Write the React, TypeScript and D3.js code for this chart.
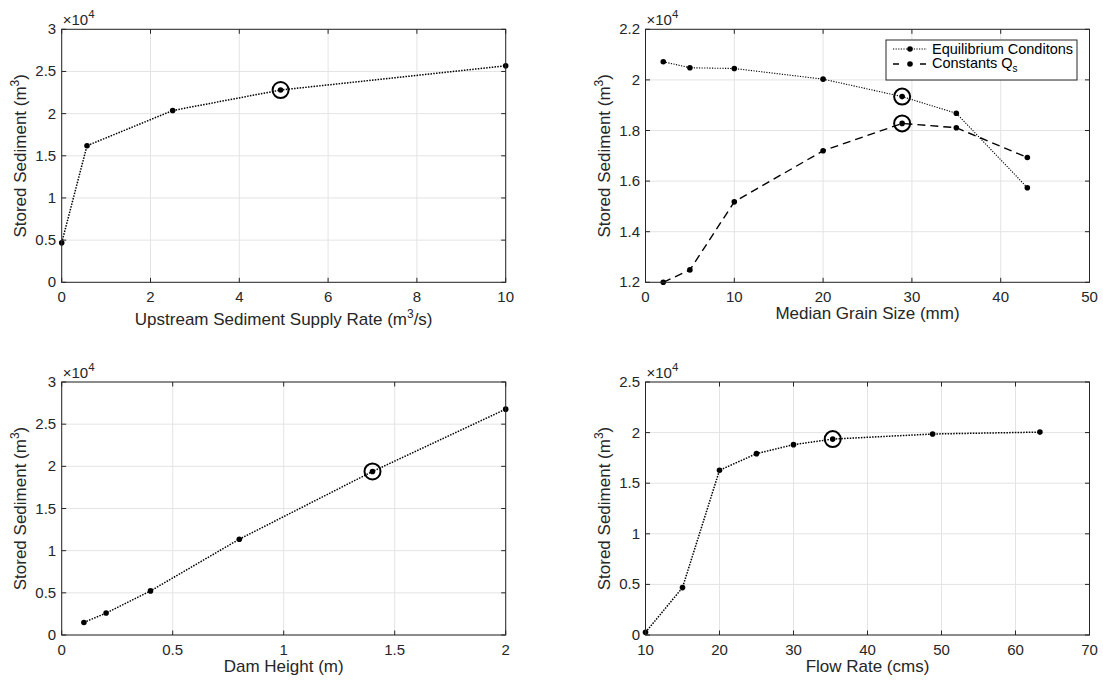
import React from "react";
import * as d3 from "d3";

// ---- Data ----
const supplyX = [0, 0.57, 2.5, 4.93, 10];
const supplyY = [4680, 16200, 20370, 22800, 25670];
const supplyHi = 3;

const grainX = [2, 5, 10, 20, 28.9, 35, 43];
const grainEqY = [20720, 20480, 20450, 20030, 19340, 18680, 15740];
const grainQsY = [12000, 12490, 15180, 17200, 18280, 18110, 16930];
const grainHi = 4;

const damX = [0.1, 0.2, 0.4, 0.8, 1.4, 2];
const damY = [1490, 2600, 5230, 11360, 19390, 26780];
const damHi = 4;

const flowX = [10, 15, 20, 25, 30, 35.3, 48.8, 63.3];
const flowY = [260, 4685, 16280, 17920, 18810, 19360, 19860, 20050];
const flowHi = 5;

const ticksSupplyX = [0, 2, 4, 6, 8, 10];
const ticksGrainX = [0, 10, 20, 30, 40, 50];
const ticksDamX = [0, 0.5, 1, 1.5, 2];
const ticksFlowX = [10, 20, 30, 40, 50, 60, 70];
const ticksY3 = [0, 0.5, 1, 1.5, 2, 2.5, 3];
const ticksY22 = [1.2, 1.4, 1.6, 1.8, 2, 2.2];
const ticksY25 = [0, 0.5, 1, 1.5, 2, 2.5];

const legendLabels = ["Equilibrium Conditons", "Constants Q"];

// ---- Style ----
const FONT = "'Liberation Sans', Arial, Helvetica, sans-serif";
const AX = "#262626";
const GRID = "#e4e4e4";
const TICK_FS = 15;
const LABEL_FS = 17;
const PW = 444;
const PH = 253;

type Series = { x: number[]; y: number[]; dash: string; width: number; hi: number };

function Panel(props: {
  left: number;
  top: number;
  xDomain: [number, number];
  yDomain: [number, number]; // in units of 1e4
  xTicks: number[];
  yTicks: number[];
  series: Series[];
  xLabel: React.ReactNode;
  xLabelDy: number;
}) {
  const { left, top, xDomain, yDomain, xTicks, yTicks, series, xLabel, xLabelDy } = props;
  const x = d3.scaleLinear().domain(xDomain).range([left, left + PW]);
  const y = d3.scaleLinear().domain(yDomain.map((v) => v * 1e4)).range([top + PH, top]);
  const bottom = top + PH;
  const right = left + PW;
  const tl = 4.5;
  return (
    <g>
      {xTicks.map((t, i) => (
        <line key={"gx" + i} x1={x(t)} x2={x(t)} y1={top} y2={bottom} stroke={GRID} strokeWidth={1} />
      ))}
      {yTicks.map((t, i) => (
        <line key={"gy" + i} x1={left} x2={right} y1={y(t * 1e4)} y2={y(t * 1e4)} stroke={GRID} strokeWidth={1} />
      ))}
      {series.map((s, si) => {
        const pts: [number, number][] = s.x.map((v, i) => [x(v), y(s.y[i])]);
        const line = d3.line()(pts) || "";
        return (
          <g key={"s" + si}>
            <path d={line} fill="none" stroke="#000" strokeWidth={s.width} strokeDasharray={s.dash} />
            {pts.map((p, i) => (
              <circle key={i} cx={p[0]} cy={p[1]} r={2.8} fill="#000" />
            ))}
            <circle cx={pts[s.hi][0]} cy={pts[s.hi][1]} r={8} fill="none" stroke="#000" strokeWidth={2} />
          </g>
        );
      })}
      <rect x={left} y={top} width={PW} height={PH} fill="none" stroke={AX} strokeWidth={1} />
      {xTicks.map((t, i) => (
        <g key={"tx" + i}>
          <line x1={x(t)} x2={x(t)} y1={bottom} y2={bottom - tl} stroke={AX} />
          <line x1={x(t)} x2={x(t)} y1={top} y2={top + tl} stroke={AX} />
          <text x={x(t)} y={bottom + 20} textAnchor="middle" fontSize={TICK_FS} fill={AX} fontFamily={FONT}>
            {String(t)}
          </text>
        </g>
      ))}
      {yTicks.map((t, i) => (
        <g key={"ty" + i}>
          <line x1={left} x2={left + tl} y1={y(t * 1e4)} y2={y(t * 1e4)} stroke={AX} />
          <line x1={right} x2={right - tl} y1={y(t * 1e4)} y2={y(t * 1e4)} stroke={AX} />
          <text x={left - 5.5} y={y(t * 1e4) + 5} textAnchor="end" fontSize={TICK_FS} fill={AX} fontFamily={FONT}>
            {String(t)}
          </text>
        </g>
      ))}
      <text x={left + 1} y={top - 4} fontSize={TICK_FS} fill={AX} fontFamily={FONT}>
        ×10
        <tspan dy={-7} fontSize={11.5}>4</tspan>
      </text>
      <text x={(left + right) / 2} y={bottom + xLabelDy} textAnchor="middle" fontSize={LABEL_FS} fill={AX} fontFamily={FONT}>
        {xLabel}
      </text>
      <text
        transform={`translate(${left - 36},${(top + bottom) / 2}) rotate(-90)`}
        textAnchor="middle"
        fontSize={LABEL_FS}
        fill={AX}
        fontFamily={FONT}
      >
        Stored Sediment (m<tspan dy={-7} fontSize={12}>3</tspan>
        <tspan dy={7}>)</tspan>
      </text>
    </g>
  );
}

export default function App() {
  const L1 = 61.7;
  const L2 = 645.5;
  const T1 = 29.3;
  const T2 = 382;
  return (
    <div style={{ position: "fixed", left: 0, top: 0, width: 1103, height: 680, background: "#fff" }}>
      <svg width={1103} height={680} style={{ display: "block" }}>
        <rect width={1103} height={680} fill="#fff" />
        <Panel
          left={L1}
          top={T1}
          xDomain={[0, 10]}
          yDomain={[0, 3]}
          xTicks={ticksSupplyX}
          yTicks={ticksY3}
          series={[{ x: supplyX, y: supplyY, dash: "1.5 1.3", width: 1.5, hi: supplyHi }]}
          xLabel={
            <>
              Upstream Sediment Supply Rate (m<tspan dy={-7} fontSize={12}>3</tspan>
              <tspan dy={7}>/s)</tspan>
            </>
          }
          xLabelDy={43}
        />
        <Panel
          left={L2}
          top={T1}
          xDomain={[0, 50]}
          yDomain={[1.2, 2.2]}
          xTicks={ticksGrainX}
          yTicks={ticksY22}
          series={[
            { x: grainX, y: grainEqY, dash: "1.2 1.4", width: 1.1, hi: grainHi },
            { x: grainX, y: grainQsY, dash: "8 5", width: 1.4, hi: grainHi },
          ]}
          xLabel={<>Median Grain Size (mm)</>}
          xLabelDy={37}
        />
        <g fontFamily={FONT}>
          <rect x={886} y={40} width={191} height={40} fill="#fff" stroke={AX} strokeWidth={1} />
          <line x1={893} x2={927} y1={49} y2={49} stroke="#000" strokeWidth={1.1} strokeDasharray="1.2 1.4" />
          <circle cx={910} cy={49} r={2.8} fill="#000" />
          <text x={932} y={53.5} fontSize={14.5} fill="#000">{legendLabels[0]}</text>
          <line x1={893} x2={927} y1={64} y2={64} stroke="#000" strokeWidth={1.4} strokeDasharray="6 21" />
          <circle cx={910} cy={64} r={2.8} fill="#000" />
          <text x={932} y={68} fontSize={14.5} fill="#000">
            {legendLabels[1]}
            <tspan dy={4} fontSize={10}>s</tspan>
          </text>
        </g>
        <Panel
          left={L1}
          top={T2}
          xDomain={[0, 2]}
          yDomain={[0, 3]}
          xTicks={ticksDamX}
          yTicks={ticksY3}
          series={[{ x: damX, y: damY, dash: "1.5 1.3", width: 1.5, hi: damHi }]}
          xLabel={<>Dam Height (m)</>}
          xLabelDy={37}
        />
        <Panel
          left={L2}
          top={T2}
          xDomain={[10, 70]}
          yDomain={[0, 2.5]}
          xTicks={ticksFlowX}
          yTicks={ticksY25}
          series={[{ x: flowX, y: flowY, dash: "1.5 1.3", width: 1.5, hi: flowHi }]}
          xLabel={<>Flow Rate (cms)</>}
          xLabelDy={37}
        />
      </svg>
    </div>
  );
}
